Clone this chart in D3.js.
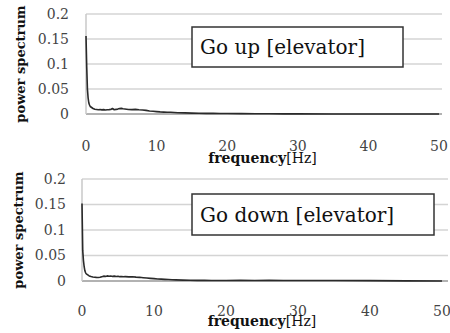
<!DOCTYPE html>
<html>
<head>
<meta charset="utf-8">
<script src="https://cdn.jsdelivr.net/npm/d3@7"></script>
<style>
  body { margin: 0; background: #fff; }
  svg { display: block; }
  .serif { font-family: "DejaVu Serif", "Liberation Serif", serif; }
</style>
</head>
<body>
<div id="chart"></div>
<script>
// frequency samples [Hz], shared by both panels
var freqs = [0, 0.1, 0.2, 0.3, 0.4, 0.5, 0.6, 0.8, 1.0, 1.25, 1.5, 1.75, 2, 2.25, 2.5, 2.75,
  3, 3.25, 3.5, 3.75, 4, 4.25, 4.5, 4.75, 5, 5.25, 5.5, 5.75, 6, 6.5, 7, 7.5, 8, 8.5, 9, 9.5,
  10, 10.5, 11, 11.5, 12, 12.5, 13, 14, 15, 16, 17, 18, 19, 20, 22, 24, 26, 28, 30, 35, 40, 45, 50];

var upPower = [0.156, 0.095, 0.050, 0.032, 0.022, 0.018, 0.015, 0.013, 0.011, 0.0095, 0.009, 0.0085,
  0.009, 0.0082, 0.0088, 0.0080, 0.0085, 0.0087, 0.0090, 0.0110, 0.0085, 0.0092, 0.0098, 0.0108,
  0.0112, 0.0105, 0.0100, 0.0095, 0.0090, 0.0088, 0.0092, 0.0085, 0.0080, 0.0072, 0.0060, 0.0055,
  0.0048, 0.0042, 0.0038, 0.0035, 0.0034, 0.0030, 0.0026, 0.0022, 0.0018, 0.0015, 0.0012, 0.0012,
  0.0010, 0.0009, 0.0008, 0.0006, 0.0004, 0.0003, 0.0002, 0.0001, 0.0001, 0.0001, 0.0001];

var downPower = [0.152, 0.060, 0.040, 0.028, 0.020, 0.016, 0.014, 0.012, 0.010, 0.0088, 0.0080, 0.0075,
  0.0072, 0.0070, 0.0075, 0.0085, 0.0095, 0.0090, 0.0100, 0.0092, 0.0098, 0.0090, 0.0095, 0.0088,
  0.0092, 0.0085, 0.0088, 0.0082, 0.0086, 0.0080, 0.0084, 0.0076, 0.0072, 0.0065, 0.0058, 0.0052,
  0.0046, 0.0040, 0.0036, 0.0032, 0.0028, 0.0025, 0.0022, 0.0018, 0.0015, 0.0013, 0.0012, 0.0010,
  0.0010, 0.0009, 0.0012, 0.0010, 0.0012, 0.0011, 0.0010, 0.0009, 0.0008, 0.0002, 0.0001];

var yTicks = [0, 0.05, 0.1, 0.15, 0.2];
var xTicks = [0, 10, 20, 30, 40, 50];
var yTickLabels = ["0", "0.05", "0.1", "0.15", "0.2"];
var panelTitles = ["Go up [elevator]", "Go down [elevator]"];

var W = 450, H = 333;

var svg = d3.select("#chart")
  .append("svg")
  .attr("width", W)
  .attr("height", H);

// one panel of the figure
function panel(values, title, box) {
  var x = d3.scaleLinear().domain([0, 50]).range([box.left, box.right]);
  var y = d3.scaleLinear().domain([0, 0.2]).range([box.bottom, box.top]);
  var g = svg.append("g");

  // grid lines
  g.selectAll("line.grid")
    .data(yTicks)
    .enter()
    .append("line")
    .attr("class", "grid")
    .attr("x1", x(0))
    .attr("x2", box.gridEnd)
    .attr("y1", function(d) { return y(d); })
    .attr("y2", function(d) { return y(d); })
    .attr("stroke", function(d) { return d === 0 ? "#999" : "#d4d4d4"; })
    .attr("stroke-width", 1.5);

  // vertical axis line
  g.append("line")
    .attr("x1", x(0)).attr("x2", x(0))
    .attr("y1", y(0)).attr("y2", y(0.2))
    .attr("stroke", "#c8c8c8")
    .attr("stroke-width", 1.5);

  // y tick labels
  g.selectAll("text.ytick")
    .data(yTicks)
    .enter()
    .append("text")
    .attr("class", "ytick serif")
    .attr("x", x(0) - box.yLabelGap)
    .attr("y", function(d) { return y(d); })
    .attr("dy", "0.35em")
    .attr("text-anchor", "end")
    .attr("font-size", "14px")
    .attr("fill", "#444")
    .text(function(d, i) { return yTickLabels[i]; });

  // x tick labels
  g.selectAll("text.xtick")
    .data(xTicks)
    .enter()
    .append("text")
    .attr("class", "xtick serif")
    .attr("x", function(d) { return x(d); })
    .attr("y", box.xLabelY)
    .attr("text-anchor", "middle")
    .attr("font-size", "14px")
    .attr("fill", "#444")
    .text(function(d) { return d; });

  // the spectrum
  var line = d3.line()
    .x(function(d, i) { return x(freqs[i]); })
    .y(function(d) { return y(d); });

  g.append("path")
    .datum(values)
    .attr("fill", "none")
    .attr("stroke", "#2a2a2a")
    .attr("stroke-width", 1.6)
    .attr("stroke-linejoin", "round")
    .attr("d", line);

  // X axis label
  var xt = g.append("text")
    .attr("class", "serif")
    .attr("x", (box.left + box.right) / 2)
    .attr("y", box.xTitleY)
    .attr("text-anchor", "middle")
    .attr("font-size", "14px")
    .attr("fill", "#111");
  xt.append("tspan").attr("font-weight", "bold").text("frequency");
  xt.append("tspan").text("[Hz]");

  // Y axis label
  g.append("text")
    .attr("class", "serif")
    .attr("transform", "translate(" + box.yTitleX + "," + (box.top + box.bottom) / 2 + ") rotate(-90)")
    .attr("text-anchor", "middle")
    .attr("dy", "0.35em")
    .attr("font-weight", "bold")
    .attr("font-size", "13px")
    .attr("fill", "#111")
    .text("power spectrum");

  // title box
  g.append("rect")
    .attr("x", box.legend[0])
    .attr("y", box.legend[1])
    .attr("width", box.legend[2])
    .attr("height", box.legend[3])
    .attr("fill", "#fff")
    .attr("stroke", "#333")
    .attr("stroke-width", 1.5);
  g.append("text")
    .attr("class", "serif")
    .attr("x", box.legend[0] + 8)
    .attr("y", box.legend[1] + box.legend[3] / 2)
    .attr("dy", "0.35em")
    .attr("font-size", "20px")
    .attr("fill", "#111")
    .text(title);
}

panel(upPower, panelTitles[0], {
  left: 86, right: 439, gridEnd: 442, top: 14, bottom: 114,
  yLabelGap: 17, xLabelY: 151, xTitleY: 163, yTitleX: 20,
  legend: [192, 27, 211, 40]
});

panel(downPower, panelTitles[1], {
  left: 82, right: 442, gridEnd: 448, top: 179, bottom: 281,
  yLabelGap: 16, xLabelY: 316, xTitleY: 326, yTitleX: 18,
  legend: [192, 194, 242, 41]
});
</script>
</body>
</html>
